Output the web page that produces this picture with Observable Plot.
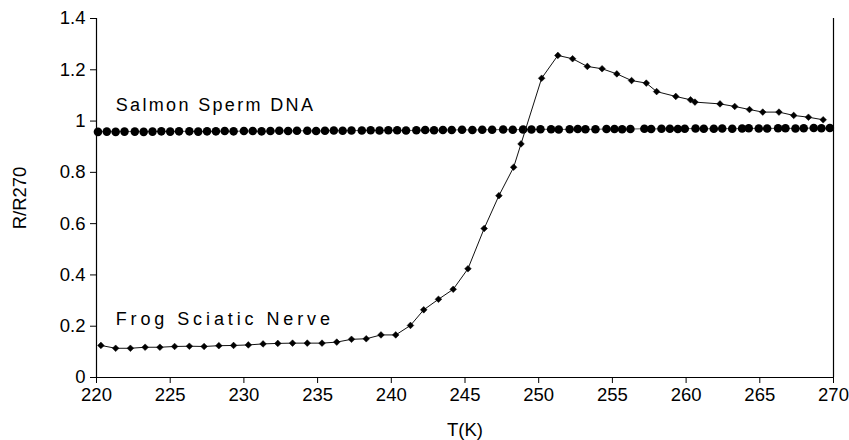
<!DOCTYPE html>
<html><head><meta charset="utf-8">
<script src="https://cdn.jsdelivr.net/npm/d3@7"></script>
<script src="https://cdn.jsdelivr.net/npm/@observablehq/plot@0.6"></script>
<style>
html,body{margin:0;padding:0;background:#fff;}
#chart svg{display:block;}
.series-label text:nth-of-type(1){letter-spacing:2.35px;}
.series-label text:nth-of-type(2){letter-spacing:3.9px;}
</style></head><body><div id="chart"></div>
<script>
// Frog Sciatic Nerve
const frogT = [220.3,221.3,222.3,223.3,224.3,225.3,226.3,227.3,228.3,229.3,230.3,231.3,232.3,233.3,234.3,235.3,236.3,237.3,238.3,239.3,240.3,241.3,
  242.2,243.2,244.2,245.2,246.3,247.3,248.3,248.8,250.2,251.3,252.3,253.3,254.3,255.3,256.3,257.3,258.0,259.3,260.3,260.6,262.3,263.3,264.3,265.2,266.3,267.3,268.3,269.3];
const frogR = [0.125,0.114,0.114,0.118,0.118,0.121,0.122,0.121,0.124,0.125,0.127,0.131,0.133,0.134,0.134,0.134,0.138,0.149,0.151,0.166,0.166,0.203,
  0.264,0.305,0.344,0.424,0.581,0.709,0.820,0.911,1.167,1.256,1.243,1.213,1.204,1.184,1.158,1.148,1.115,1.096,1.083,1.074,1.067,1.057,1.045,1.035,1.035,1.022,1.015,1.005];

// Salmon Sperm DNA
const dnaT = [220.1,220.7,221.3,221.9,222.6,223.2,223.8,224.4,225.0,225.6,226.3,226.9,227.5,228.1,228.7,229.3,230.0,230.6,231.2,231.8,
  232.4,233.0,233.6,234.3,234.9,235.5,236.1,236.7,237.3,238.0,238.6,239.2,239.8,240.4,241.0,241.7,242.3,242.9,243.5,244.1,
  244.8,245.5,246.17,246.84,247.59,248.24,248.94,249.51,
  250.12,250.84,251.36,252.1,252.65,253.17,253.85,254.6,255.14,255.66,256.22,257.17,257.63,258.33,258.9,259.44,259.91,260.64,
  261.2,261.88,262.45,263.13,263.8,264.25,264.93,265.5,266.24,266.74,267.42,267.98,268.66,269.18,269.75];
const dnaR = [0.958,0.959,0.958,0.959,0.959,0.958,0.959,0.960,0.959,0.960,
  0.960,0.959,0.960,0.960,0.961,0.960,0.961,0.961,0.960,0.961,
  0.962,0.961,0.962,0.962,0.961,0.962,0.963,0.962,0.963,0.963,
  0.964,0.963,0.964,0.964,0.963,0.964,0.965,0.964,0.965,0.965,
  0.966,0.965,0.966,0.966,0.967,0.966,0.967,0.967,
  0.968,0.968,0.967,0.968,0.969,0.968,0.968,0.969,0.969,0.968,
  0.969,0.970,0.969,0.970,0.970,0.969,0.970,0.971,0.970,0.970,
  0.971,0.970,0.971,0.972,0.971,0.971,0.972,0.972,0.971,0.972,
  0.973,0.972,0.973];

const xTicks = [220,225,230,235,240,245,250,255,260,265,270];
const yTicks = [0,0.2,0.4,0.6,0.8,1,1.2,1.4];

const labelText = ["Salmon Sperm DNA", "Frog Sciatic Nerve"];
const labelT = [221.3, 221.3];
const labelR = [1.061, 0.228];

const frog = frogT.map((t, i) => ({t, r: frogR[i]}));
const dna = dnaT.map((t, i) => ({t, r: dnaR[i]}));
const labels = labelText.map((s, i) => ({s, t: labelT[i], r: labelR[i]}));

const chart = Plot.plot({
  width: 849, height: 440,
  marginLeft: 96, marginRight: 16, marginTop: 18, marginBottom: 63,
  style: {fontFamily: "'Liberation Sans', Arial, Helvetica, sans-serif", fontSize: "17px", color: "#000", background: "#fff"},
  x: {domain: [xTicks[0], xTicks[xTicks.length - 1]]},
  y: {domain: [yTicks[0], yTicks[yTicks.length - 1]]},
  marks: [
    Plot.axisX({ticks: xTicks, tickFormat: d => String(d), tickSize: 6, tickPadding: 4, fontSize: 18.5, label: "T(K)", labelAnchor: "center", labelArrow: "none", labelOffset: 58}),
    Plot.axisY({ticks: yTicks, tickFormat: d => String(d), tickSize: 6, tickPadding: 5, fontSize: 18.5, label: "R/R270", labelAnchor: "center", labelArrow: "none", labelOffset: 84}),
    Plot.ruleY([yTicks[0]], {stroke: "#000", strokeWidth: 1.2}),
    Plot.ruleX([xTicks[0]], {stroke: "#000", strokeWidth: 1.2}),
    Plot.ruleX([xTicks[xTicks.length - 1]], {stroke: "#000", strokeWidth: 1.2}),
    Plot.line(dna, {x: "t", y: "r", stroke: "#555", strokeWidth: 1}),
    Plot.dot(dna, {x: "t", y: "r", r: 4.3, fill: "#000", stroke: "none"}),
    Plot.line(frog, {x: "t", y: "r", stroke: "#111", strokeWidth: 1}),
    Plot.dot(frog, {x: "t", y: "r", symbol: "diamond2", r: 3, fill: "#000", stroke: "#000", strokeWidth: 0.5}),
    Plot.text(labels, {x: "t", y: "r", text: "s", textAnchor: "start", fontSize: 18, fill: "#000", className: "series-label"})
  ]
});
document.getElementById("chart").appendChild(chart);
</script></body></html>
